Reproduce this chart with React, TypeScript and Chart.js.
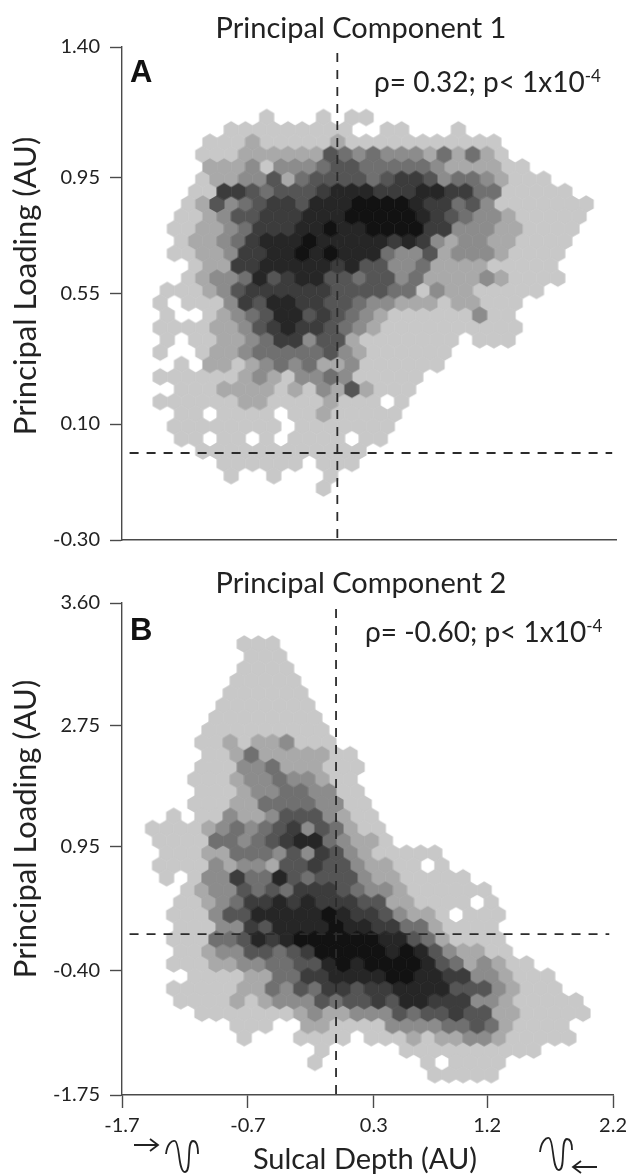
import React, { useEffect, useRef } from "react";
import { Chart, registerables } from "chart.js";

Chart.register(...registerables);

// ---- density levels per hexagon: one string per grid row, one digit per column (0 = empty bin)
const densityA: string[] = [
  "000000010001011",
  "0000011111111100110001",
  "000111211111211111111111",
  "0001112222225434333242421",
  "00022231333455444443222211",
  "0001223352455554566534432111",
  "00116654555677766677664411111",
  "0012534566577788887664531111111",
  "011235566677788888765433211111",
  "011223466677877888866333221111",
  "01223467778777776763233221111",
  "01122366778787774335233321111",
  "0012266777776755334222211111",
  "00123347567755455342222321111",
  "111235666666555544132211111",
  "10111365776655433222122111",
  "1001234577565432111111311",
  "11112235676654321111111111",
  "1011223466355211111110111",
  "100122344444532111111",
  "01022123434223111111",
  "1111112321334311111",
  "011122221213252111",
  "111111221111211101",
  "01101111011211111",
  "01111111101111111",
  "0110110101111011",
  "000111111111111",
  "00001111110111",
  "0000010010001",
  "000000000001",
];

const densityB: string[] = [
  "000000111",
  "0000000111",
  "0000001111",
  "00000011111",
  "00000111111",
  "000001111111",
  "000011111111",
  "0000111111111",
  "0001121223111",
  "000011242222211",
  "000111334222111",
  "000111233433211",
  "000111233443311",
  "0001112244443311",
  "0101132235553211",
  "11112343456354211",
  "11114434567743221",
  "011122444353653211111",
  "111132332556553221101",
  "01013364475455532211111",
  "001233545466654332111111",
  "0011234667676665522111101",
  "0111355777778766532210111",
  "0011133657777877664421111",
  "0111445767888888775421111",
  "00112335545688888787532211",
  "011122334455787888875423211",
  "00011112244667777887766332111",
  "01111122435466566777755532111",
  "0011112123335455657766633211111",
  "0001111111232233354556552211111",
  "000000111002211113333445421111",
  "000000100011110111212233211111",
  "0000000000001000001111111111",
  "0000000000010000000101111",
  "0000000000000000000011111",
];

// hexbin lattice of each panel, in data units
const gridA = { x0: -1.3425, y0: 1.1569, dx: 0.1121, dy: 0.04259 };
const gridB = { x0: -1.4017, y0: 3.1543, dx: 0.1121, dy: 0.1338 };

const levelColors = ["#c8c8c8", "#a9a9a9", "#8c8c8c", "#707070", "#555555", "#3c3c3c", "#262626", "#121212"];

const xTicks = [-1.7, -0.7, 0.3, 1.2, 2.2];
const xLabels = ["-1.7", "-0.7", "0.3", "1.2", "2.2"];
const yTicksA = [1.4, 0.95, 0.55, 0.1, -0.3];
const yLabelsA = ["1.40", "0.95", "0.55", "0.10", "-0.30"];
const yTicksB = [3.6, 2.27, 0.95, -0.4, -1.75];
const yLabelsB = ["3.60", "2.75", "0.95", "-0.40", "-1.75"];

const FONT = "Lato";
const AXIS = "#4a4a4a";
const INK = "#222";

function hexSprite(color: string): HTMLCanvasElement {
  const c = document.createElement("canvas");
  c.width = 24;
  c.height = 24;
  const g = c.getContext("2d")!;
  g.fillStyle = color;
  g.beginPath();
  for (let i = 0; i < 6; i++) {
    const a = Math.PI / 6 + (i * Math.PI) / 3;
    const px = 12 + 8.75 * Math.cos(a);
    const py = 12 + 8.75 * Math.sin(a);
    if (i === 0) g.moveTo(px, py);
    else g.lineTo(px, py);
  }
  g.closePath();
  g.fill();
  return c;
}

function hexDatasets(rows: string[], grid: { x0: number; y0: number; dx: number; dy: number }) {
  return levelColors.map((color, idx) => {
    const data: { x: number; y: number }[] = [];
    rows.forEach((row, r) => {
      const shift = r % 2 === 0 ? 0 : -grid.dx / 2;
      row.split("").forEach((ch, c) => {
        if (Number(ch) === idx + 1) data.push({ x: grid.x0 + shift + c * grid.dx, y: grid.y0 - r * grid.dy });
      });
    });
    return {
      label: "level " + (idx + 1),
      data,
      pointStyle: hexSprite(color),
      pointRadius: 8,
      pointHoverRadius: 8,
      showLine: false,
      order: 10 - idx,
    };
  });
}

function dashLine(data: { x: number; y: number }[]) {
  return {
    label: "reference",
    data,
    showLine: true,
    pointRadius: 0,
    borderColor: "#2b2b2b",
    borderWidth: 1.8,
    borderDash: [9, 8],
    order: 0,
  };
}

function makeChart(
  canvas: HTMLCanvasElement,
  rows: string[],
  grid: { x0: number; y0: number; dx: number; dy: number },
  yMin: number,
  yMax: number,
  yTicks: number[],
  yLabels: string[],
  top: number,
  xHeight: number,
  showX: boolean,
  hStart: number
) {
  return new Chart(canvas, {
    type: "scatter",
    data: {
      datasets: [
        dashLine([{ x: 0, y: yMax - 0.012 * (yMax - yMin) }, { x: 0, y: yMin }]),
        dashLine([{ x: hStart, y: 0 }, { x: 2.17, y: 0 }]),
        ...hexDatasets(rows, grid),
      ] as any,
    },
    options: {
      animation: false,
      responsive: false,
      layout: { padding: { left: 0, right: 17, top, bottom: 0 } },
      plugins: { legend: { display: false }, tooltip: { enabled: false }, title: { display: false } },
      scales: {
        x: {
          type: "linear",
          min: -1.7,
          max: 2.2,
          afterBuildTicks: (s: any) => {
            s.ticks = xTicks.map((value) => ({ value }));
          },
          afterFit: (s: any) => {
            s.height = xHeight;
          },
          ticks: {
            display: showX,
            autoSkip: false,
            maxRotation: 0,
            padding: 6,
            color: INK,
            font: { family: FONT, size: 20 },
            callback: (_v: any, i: number) => xLabels[i],
          },
          grid: { display: showX, drawOnChartArea: false, drawTicks: showX, tickLength: 13, tickColor: AXIS, tickWidth: 1.4 },
          border: { display: true, color: AXIS, width: 1.4 },
        },
        y: {
          type: "linear",
          min: yMin,
          max: yMax,
          afterBuildTicks: (s: any) => {
            s.ticks = yTicks.map((value) => ({ value }));
          },
          afterFit: (s: any) => {
            s.width = 122;
          },
          ticks: {
            autoSkip: false,
            padding: 10,
            color: INK,
            font: { family: FONT, size: 20 },
            callback: (_v: any, i: number) => yLabels[i],
          },
          grid: { drawOnChartArea: false, drawTicks: true, tickLength: 12, tickColor: AXIS, tickWidth: 1.4 },
          border: { display: true, color: AXIS, width: 1.4 },
        },
      },
    } as any,
  });
}

const textBase: React.CSSProperties = {
  position: "absolute",
  fontFamily: FONT,
  color: INK,
  whiteSpace: "nowrap",
  lineHeight: 1,
};

function Centered(props: { x: number; y: number; size?: number; rotate?: boolean; children: React.ReactNode }) {
  const { x, y, size = 29, rotate, children } = props;
  return (
    <div
      style={{
        ...textBase,
        left: x,
        top: y,
        fontSize: size,
        transform: `translate(-50%,-50%)${rotate ? " rotate(-90deg)" : ""}`,
      }}
    >
      {children}
    </div>
  );
}

function Stat(props: { x: number; y: number; text: string }) {
  return (
    <div style={{ ...textBase, left: props.x, top: props.y, fontSize: 28 }}>
      {props.text}
      <sup style={{ fontSize: 17, lineHeight: 0 }}>-4</sup>
    </div>
  );
}

function Panel(props: { x: number; y: number; text: string }) {
  return (
    <div
      style={{
        ...textBase,
        left: props.x,
        top: props.y,
        fontFamily: "Liberation Sans",
        fontWeight: 700,
        fontSize: 31,
        color: "#111",
      }}
    >
      {props.text}
    </div>
  );
}

export default function App() {
  const refA = useRef<HTMLCanvasElement>(null);
  const refB = useRef<HTMLCanvasElement>(null);

  useEffect(() => {
    const a = makeChart(refA.current!, densityA, gridA, -0.3, 1.4, yTicksA, yLabelsA, 47, 30, false, -1.64);
    const b = makeChart(refB.current!, densityB, gridB, -1.75, 3.6, yTicksB, yLabelsB, 33, 80, true, -1.64);
    return () => {
      a.destroy();
      b.destroy();
    };
  }, []);

  const blur = "blur(0.35px)";
  return (
    <div style={{ position: "absolute", left: 0, top: 0, width: 633, height: 1175, overflow: "hidden", background: "#fff" }}>
      <canvas ref={refA} width={633} height={570} style={{ position: "absolute", left: 0, top: 0, filter: blur }} />
      <canvas ref={refB} width={633} height={605} style={{ position: "absolute", left: 0, top: 570, filter: blur }} />

      <Centered x={361} y={26}>Principal Component 1</Centered>
      <Centered x={361} y={581}>Principal Component 2</Centered>
      <Centered x={24} y={286} size={31} rotate>Principal Loading (AU)</Centered>
      <Centered x={24} y={829} size={31} rotate>Principal Loading (AU)</Centered>
      <Centered x={365} y={1157}>Sulcal Depth (AU)</Centered>

      <Panel x={130} y={56} text="A" />
      <Panel x={130} y={614} text="B" />
      <Stat x={374} y={67} text="ρ= 0.32; p< 1x10" />
      <Stat x={365} y={617} text="ρ= -0.60; p< 1x10" />

      <svg width={633} height={1175} style={{ position: "absolute", left: 0, top: 0, pointerEvents: "none" }}>
        <g fill="none" stroke="#222" strokeWidth={1.8}>
          <path d="M134 1145 H157 M150 1139 L158 1145 L150 1151" />
          <path d="M166 1154 C167 1144 172 1140 175 1141 C180 1143 178 1172 185 1172 C192 1172 186 1141 193 1141 C197 1141 198 1146 198 1154" />
          <path d="M540 1152 C541 1142 546 1137 549 1138 C554 1140 552 1170 559 1170 C566 1170 560 1139 567 1139 C571 1139 572 1144 572 1150" />
          <path d="M597 1167 H574 M581 1161 L573 1167 L581 1173" />
        </g>
      </svg>
    </div>
  );
}
